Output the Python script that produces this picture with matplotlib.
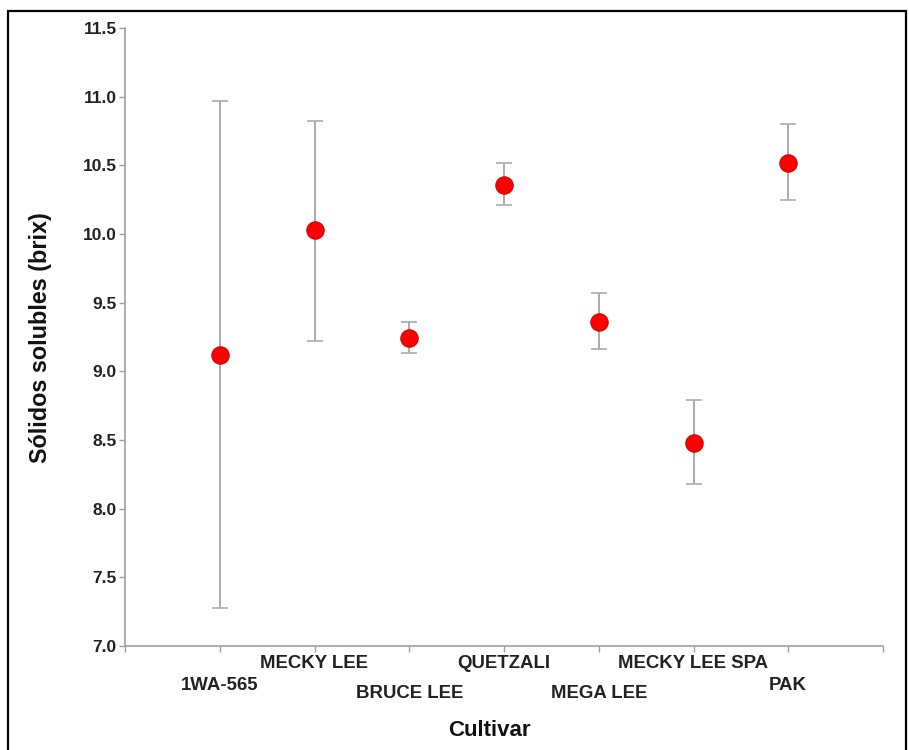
import matplotlib.pyplot as plt
from matplotlib.patches import Rectangle
from matplotlib.transforms import blended_transform_factory, offset_copy

plt.rcParams['font.family'] = ['Liberation Sans', 'DejaVu Sans']

cultivars = ["1WA-565", "MECKY LEE", "BRUCE LEE", "QUETZALI",
             "MEGA LEE", "MECKY LEE SPA", "PAK"]
brix_mean = [9.12, 10.03, 9.24, 10.36, 9.36, 8.48, 10.52]
brix_low = [7.28, 9.22, 9.13, 10.21, 9.16, 8.18, 10.25]
brix_high = [10.97, 10.82, 9.36, 10.52, 9.57, 8.79, 10.80]
y_ticks = [7.0, 7.5, 8.0, 8.5, 9.0, 9.5, 10.0, 10.5, 11.0, 11.5]

# staggered label rows (pixels below the x axis)
label_drop = [40, 18, 47, 18, 47, 18, 40]

axis_grey = "#a0a0a0"

fig = plt.figure(figsize=(9.09, 7.5), dpi=100)
ax = fig.add_axes([125/909, 1-646/750, (883-125)/909, (646-28)/750])

x = list(range(1, len(cultivars) + 1))
err = [[m - lo for m, lo in zip(brix_mean, brix_low)],
       [hi - m for m, hi in zip(brix_mean, brix_high)]]
ax.errorbar(x, brix_mean, yerr=err, fmt="none", ecolor="#ababab",
            elinewidth=1.4, capsize=6, capthick=1.2, zorder=2)
ax.plot(x, brix_mean, "o", ms=12.5, mfc="#ff0000", mec="#d40000",
        mew=0.8, zorder=3)

ax.set_xlim(0, len(cultivars) + 1)
ax.set_ylim(7.0, 11.5)
ax.set_xticks(range(0, len(cultivars) + 2))
ax.set_xticklabels([])
ax.set_yticks(y_ticks)
ax.set_yticklabels([f"{v:.1f}" for v in y_ticks], fontsize=12.5,
                   fontweight="bold", color="#222222")

for side in ["top", "right"]:
    ax.spines[side].set_visible(False)
for side in ["left", "bottom"]:
    ax.spines[side].set_color(axis_grey)
    ax.spines[side].set_linewidth(1.2)
ax.tick_params(axis="both", direction="out", length=4, width=1,
               color=axis_grey, pad=2)

trans = blended_transform_factory(ax.transData, ax.transAxes)
for xi, name, drop in zip(x, cultivars, label_drop):
    t = offset_copy(trans, fig=fig, x=0, y=-drop * 72 / 100, units="points")
    ax.text(xi, 0, name, transform=t, ha="center", va="center",
            fontsize=13.4, fontweight="bold", color="#222222")

fig.text(489/909, 1-731/750, "Cultivar", ha="center", va="center",
         fontsize=16, fontweight="bold", color="#111111")
fig.text(41/909, 1-338/750, "Sólidos solubles (brix)", ha="center",
         va="center", rotation=90, fontsize=16.8, fontweight="bold",
         color="#111111")

# outer frame
fig.patches.append(Rectangle((8/909, -0.01), (906-8)/909, 1-11/750 + 0.01,
                             transform=fig.transFigure, fill=False,
                             edgecolor="black", linewidth=1.6))

fig.savefig("out.png", dpi=100)
